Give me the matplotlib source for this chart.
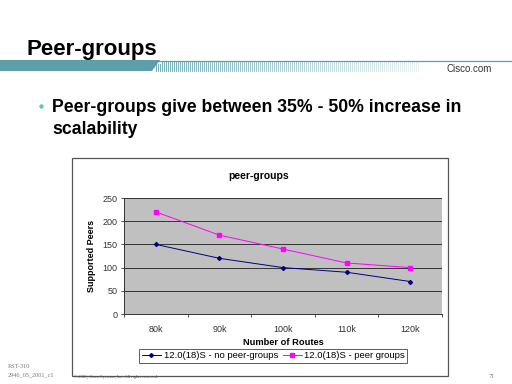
import matplotlib.pyplot as plt
from matplotlib.patches import Rectangle, Polygon

# chart data
routes = ["80k", "90k", "100k", "110k", "120k"]
noPeerGroups = [150, 120, 100, 90, 70]
peerGroups = [220, 170, 140, 110, 100]
yTicks = [0, 50, 100, 150, 200, 250]

W, H = 512, 384
fig = plt.figure(figsize=(W / 100, H / 100), dpi=100)
fig.patch.set_facecolor("white")

# slide decoration in pixel coords
bg = fig.add_axes([0, 0, 1, 1])
bg.set_xlim(0, W)
bg.set_ylim(H, 0)
bg.axis("off")

teal = "#5c9fa8"
bg.add_patch(Polygon([[0, 60], [160, 60], [152, 71], [0, 71]], closed=True, color=teal, lw=0))
bg.plot([0, W], [60.5, 60.5], color=teal, lw=0.9)
for x in range(156, 420, 2):
    frac = (x - 156) / 264
    alpha = 0.85 * (1 - frac) + 0.15
    top = 64 if x < 162 else 61
    bg.plot([x, x], [top, 71], color=teal, lw=0.6, alpha=alpha)

bg.text(27, 55, "Peer-groups", fontsize=16, fontweight="bold", family="Liberation Sans",
        va="baseline", ha="left")
bg.text(492, 72, "Cisco.com", fontsize=7, color="#333333", family="Liberation Sans",
        va="baseline", ha="right")

bg.plot([41], [106], marker="o", ms=3.2, color="#5ec4d0", mec="none")
bg.text(52, 112, "Peer-groups give between 35% - 50% increase in", fontsize=12.7,
        fontweight="bold", family="Liberation Sans", va="baseline", ha="left")
bg.text(52, 134, "scalability", fontsize=12.7, fontweight="bold", family="Liberation Sans",
        va="baseline", ha="left")

# chart frame
bg.add_patch(Rectangle((72, 158), 376, 218, fill=False, ec="#555555", lw=0.9))
bg.text(259, 176, "peer-groups", fontsize=7.5, fontweight="bold", family="Liberation Sans",
        ha="center", va="center")

# footer
bg.text(8, 366, "RST-310", fontsize=4.5, color="#777777", family="Liberation Serif", va="center")
bg.text(8, 375, "2946_05_2001_c1", fontsize=4.5, color="#777777", family="Liberation Serif", va="center")
bg.text(74, 377, "\u00a9 2001, Cisco Systems, Inc. All rights reserved.", fontsize=3.2,
        color="#555555", family="Liberation Serif", va="center")
bg.text(489, 376, "71", fontsize=4.5, color="#777777", family="Liberation Serif", va="center")

# plot area: x 124..442, y 198..314
ax = fig.add_axes([124 / W, 1 - 314 / H, 318 / W, 116 / H])
ax.set_facecolor("#c0c0c0")
x = list(range(len(routes)))
ax.plot(x, noPeerGroups, color="#000080", lw=0.7, marker="D", ms=2, label="12.0(18)S - no peer-groups")
ax.plot(x, peerGroups, color="#ff00ff", lw=0.7, marker="s", ms=2.6, label="12.0(18)S - peer groups")
ax.set_xlim(-0.5, len(routes) - 0.5)
ax.set_ylim(0, 250)
ax.set_yticks(yTicks)
ax.set_yticklabels([str(v) for v in yTicks], fontsize=6.5, family="Liberation Sans", color="#333333")
ax.set_xticks(x)
ax.set_xticklabels(routes, fontsize=6.5, family="Liberation Sans", color="#333333")
ax.set_xticks([i + 0.5 for i in range(-1, len(routes))], minor=True)
ax.tick_params(axis="x", which="major", length=0, pad=8)
ax.tick_params(axis="x", which="minor", length=2.5, direction="out", color="#333333", width=0.6)
ax.tick_params(axis="y", length=2.5, width=0.6, color="#333333", pad=2)
ax.grid(axis="y", color="#333333", lw=0.7)
ax.set_axisbelow(True)
for side in ["top", "right"]:
    ax.spines[side].set_visible(False)
ax.spines["left"].set_color("#333333")
ax.spines["bottom"].set_color("#333333")
ax.spines["left"].set_linewidth(0.7)
ax.spines["bottom"].set_linewidth(0.7)
ax.set_xlabel("Number of Routes", fontsize=6.7, fontweight="bold", family="Liberation Sans", labelpad=3)
ax.set_ylabel("Supported Peers", fontsize=6.5, fontweight="bold", family="Liberation Sans", labelpad=5)

leg = ax.legend(loc="upper center", bbox_to_anchor=(0.47, -0.26), ncol=2, frameon=True,
                fancybox=False, edgecolor="#333333", prop={"family": "Liberation Sans", "size": 6.8},
                handlelength=2.0, columnspacing=0.5, handletextpad=0.3, borderpad=0.25)
leg.get_frame().set_linewidth(0.7)

fig.savefig("out.png", dpi=100)
